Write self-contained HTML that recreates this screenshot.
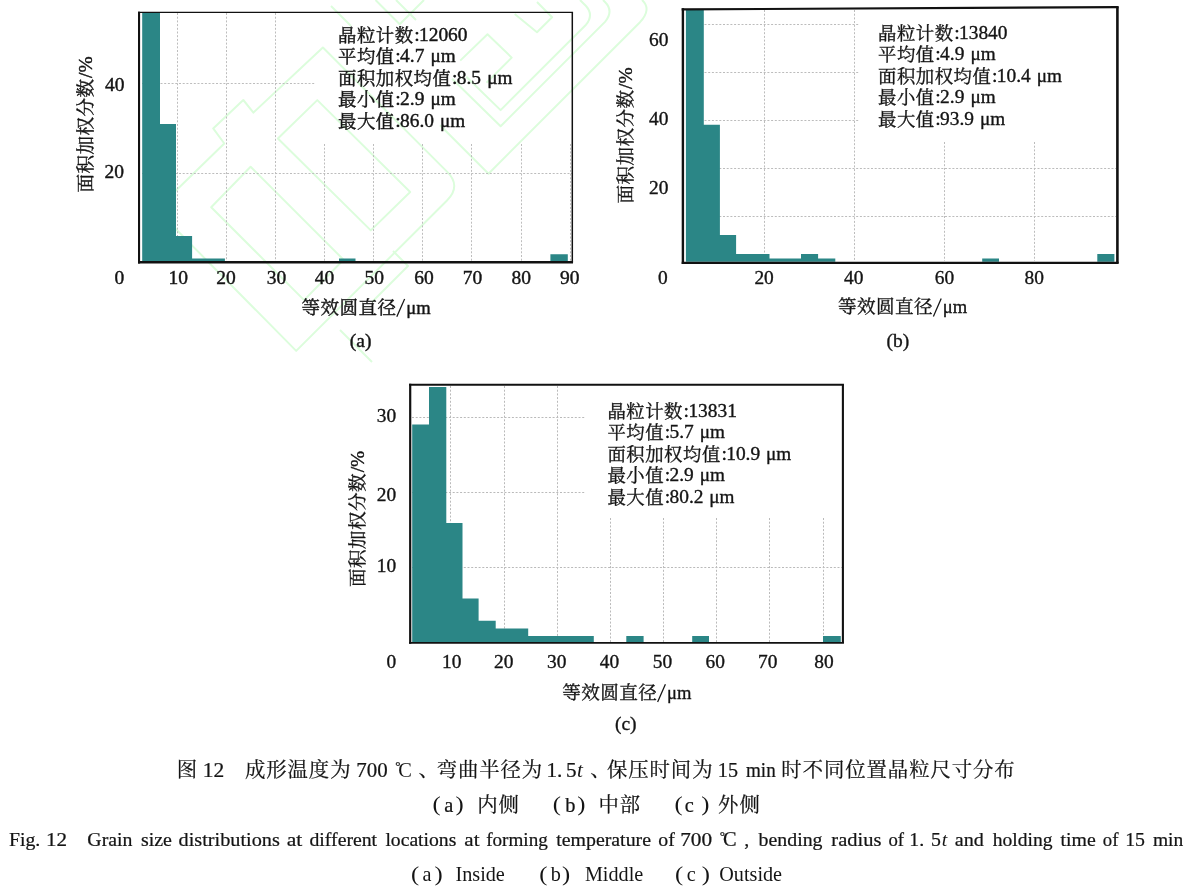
<!DOCTYPE html>
<html lang="zh">
<head>
<meta charset="utf-8">
<title>Fig. 12 Grain size distributions</title>
<style>
html,body{margin:0;padding:0;background:#fff}
body{width:1191px;height:891px;overflow:hidden;position:relative;font-family:"Liberation Serif","Noto Serif CJK SC",serif}
svg{position:absolute;left:0;top:0;display:block;will-change:transform}
text{font-family:"Liberation Serif","Noto Serif CJK SC",serif;fill:#141414;white-space:pre}
.b{font-weight:bold}
.e{stroke:#141414;stroke-width:.24px}
.i{font-style:italic}
.s{stroke:#141414;stroke-width:.34px}
.s2{stroke:#141414;stroke-width:.4px}
</style>
</head>
<body>
<svg width="1191" height="891" viewBox="0 0 1191 891" role="img" aria-label="图 12 成形温度为 700 ℃、弯曲半径为 1.5t、保压时间为 15 min 时不同位置晶粒尺寸分布">
<desc>图 12 成形温度为 700 ℃、弯曲半径为 1.5t、保压时间为 15 min 时不同位置晶粒尺寸分布 （a）内侧 （b）中部 （c）外侧</desc>
<g fill="none" stroke="#dcfddc" stroke-width="2" stroke-linejoin="round">
<path d="M156.5 209.5L224.3 143.5L213.2 128.4L243.3 100L253.4 112.6L322.9 47.5L447 171.6Q461.5 186 447 200.5L296.2 350.9Z"/>
<path d="M317.3 100.1L277.9 138.5L370.8 230.4L410.2 192Z"/>
<path d="M250.6 166.8L211.2 207.2L304.1 300.1L343.5 259.7Z"/>
<path d="M375.5 0L399.7 24.2L424 0M331 6L351 26M396 0L416 20"/>
<path d="M466.3 76.8L500.6 110.1L586 24.7Q594 15 586 6L580 0"/>
<path d="M452.1 78.8L500.6 126.3L605 21.9Q614 11 605 2L603 0"/>
<path d="M440 125.3L488.5 173.7L640 22.2Q652 9 642 0"/>
<path d="M460.2 60.6L487.5 34.3L511.7 57.6L486.5 82.8M514.7 14.1L537 32.3L552.1 17.2L537 2"/>
<path d="M393 251L408 266L372 302M340 330L372 362"/>
</g>
<g>
<path d="M177.5 13V261M226.5 13V261M275.5 13V261M324.5 144V261M373.5 144V261M422.5 144V261M471.5 144V261M521.5 144V261M570.5 144V261M142 83.5H315M142 173.5H572" fill="none" stroke="#bdbdbd" stroke-width="1" stroke-dasharray="2 1.7"/>
<path d="M142.2 261.1V12.3H160V124H176V235.9H192.1V258.6H224.9V261.1ZM339 261.1V258.6H355.5V261.1ZM550.4 261.1V254.2H567.8V261.1Z" fill="#2b8686"/>
<path d="M139.05 11.7V263.5" stroke="#111" stroke-width="2.1" fill="none"/>
<path d="M138 262.3H573.05" stroke="#111" stroke-width="2.4" fill="none"/>
<path d="M138 12.3L573.05 12.3" stroke="#111" stroke-width="1.2" fill="none"/>
<path d="M572.3 12.3V262.3" stroke="#111" stroke-width="1.5" fill="none"/>
<text x="124.4" y="90.7" font-size="19" text-anchor="end" class="s2" textLength="19.5" lengthAdjust="spacingAndGlyphs">40</text>
<text x="124" y="177.7" font-size="19" text-anchor="end" class="s2" textLength="19.5" lengthAdjust="spacingAndGlyphs">20</text>
<text x="124.3" y="283.5" font-size="19" text-anchor="end" class="s2" textLength="9.75" lengthAdjust="spacingAndGlyphs">0</text>
<text x="178.3" y="283.6" font-size="19" text-anchor="middle" class="s2" textLength="19.5" lengthAdjust="spacingAndGlyphs">10</text>
<text x="226" y="283.6" font-size="19" text-anchor="middle" class="s2" textLength="19.5" lengthAdjust="spacingAndGlyphs">20</text>
<text x="276.6" y="283.6" font-size="19" text-anchor="middle" class="s2" textLength="19.5" lengthAdjust="spacingAndGlyphs">30</text>
<text x="324.6" y="283.6" font-size="19" text-anchor="middle" class="s2" textLength="19.5" lengthAdjust="spacingAndGlyphs">40</text>
<text x="374.2" y="283.6" font-size="19" text-anchor="middle" class="s2" textLength="19.5" lengthAdjust="spacingAndGlyphs">50</text>
<text x="424" y="283.6" font-size="19" text-anchor="middle" class="s2" textLength="19.5" lengthAdjust="spacingAndGlyphs">60</text>
<text x="472.6" y="283.6" font-size="19" text-anchor="middle" class="s2" textLength="19.5" lengthAdjust="spacingAndGlyphs">70</text>
<text x="521.2" y="283.6" font-size="19" text-anchor="middle" class="s2" textLength="19.5" lengthAdjust="spacingAndGlyphs">80</text>
<text x="569.8" y="283.6" font-size="19" text-anchor="middle" class="s2" textLength="19.5" lengthAdjust="spacingAndGlyphs">90</text>
</g>
<g>
<path d="M764.5 10V261M854.5 10V261M944.5 142V261M1034.5 142V261M686 24.5H859.5M686 72.5H859.5M686 120.5H859.5M686 168.5H1116M686 216.5H1116" fill="none" stroke="#bcbcbc" stroke-width="1" stroke-dasharray="2 1.7"/>
<path d="M685.9 261.75V9H703.8V124.7H719.9V235.1H736.1V254.1H769.5V258.6H801V254.1H818.1V258.6H835.3V261.75ZM982.2 261.75V258.4H999V261.75ZM1097.3 261.75V254.1H1114.4V261.75Z" fill="#2b8686"/>
<path d="M682.9 8.3V264.05" stroke="#111" stroke-width="2.4" fill="none"/>
<path d="M681.7 262.9H1118.7" stroke="#111" stroke-width="2.3" fill="none"/>
<path d="M681.7 9.4L1118.7 7.2" stroke="#111" stroke-width="2.2" fill="none"/>
<path d="M1117.4 7.2V262.9" stroke="#111" stroke-width="2.6" fill="none"/>
<text x="668.4" y="45.9" font-size="19" text-anchor="end" class="s" textLength="19.4" lengthAdjust="spacingAndGlyphs">60</text>
<text x="668.4" y="124.5" font-size="19" text-anchor="end" class="s" textLength="19.4" lengthAdjust="spacingAndGlyphs">40</text>
<text x="668.4" y="194" font-size="19" text-anchor="end" class="s" textLength="19.4" lengthAdjust="spacingAndGlyphs">20</text>
<text x="667.6" y="283.5" font-size="19" text-anchor="end" class="s" textLength="9.7" lengthAdjust="spacingAndGlyphs">0</text>
<text x="764.1" y="283.5" font-size="19" text-anchor="middle" class="s" textLength="19.4" lengthAdjust="spacingAndGlyphs">20</text>
<text x="853.8" y="283.5" font-size="19" text-anchor="middle" class="s" textLength="19.4" lengthAdjust="spacingAndGlyphs">40</text>
<text x="944.4" y="283.5" font-size="19" text-anchor="middle" class="s" textLength="19.4" lengthAdjust="spacingAndGlyphs">60</text>
<text x="1034.2" y="283.5" font-size="19" text-anchor="middle" class="s" textLength="19.4" lengthAdjust="spacingAndGlyphs">80</text>
</g>
<g>
<path d="M450.5 386V642M504.5 386V642M557.5 386V642M610.5 518V642M663.5 518V642M716.5 518V642M769.5 518V642M823.5 518V642M412 417.5H585.5M412 492.5H585.5M412 567.5H843" fill="none" stroke="#bababa" stroke-width="1" stroke-dasharray="2 1.7"/>
<path d="M412.2 641.95V424.5H429V387H446.3V523H462.5V598.6H478.6V620.8H495.7V628.6H528.2V636.1H593.8V641.95ZM626.3 641.95V636H643.6V641.95ZM692.2 641.95V636H709V641.95ZM823 641.95V635.9H840.8V641.95Z" fill="#2b8686"/>
<path d="M410.2 383.85V643.85" stroke="#111" stroke-width="2.2" fill="none"/>
<path d="M409.1 642.9H843.95" stroke="#111" stroke-width="1.9" fill="none"/>
<path d="M409.1 384.8L843.95 384.8" stroke="#111" stroke-width="1.9" fill="none"/>
<path d="M842.9 384.8V642.9" stroke="#111" stroke-width="2.1" fill="none"/>
<text x="396.2" y="421.6" font-size="19" text-anchor="end" class="s" textLength="19.4" lengthAdjust="spacingAndGlyphs">30</text>
<text x="396.2" y="500.5" font-size="19" text-anchor="end" class="s" textLength="19.4" lengthAdjust="spacingAndGlyphs">20</text>
<text x="396.2" y="572.4" font-size="19" text-anchor="end" class="s" textLength="19.4" lengthAdjust="spacingAndGlyphs">10</text>
<text x="396.3" y="668.2" font-size="19" text-anchor="end" class="s" textLength="9.7" lengthAdjust="spacingAndGlyphs">0</text>
<text x="451.7" y="668.2" font-size="19" text-anchor="middle" class="s" textLength="19.4" lengthAdjust="spacingAndGlyphs">10</text>
<text x="503.8" y="668.2" font-size="19" text-anchor="middle" class="s" textLength="19.4" lengthAdjust="spacingAndGlyphs">20</text>
<text x="556.7" y="668.2" font-size="19" text-anchor="middle" class="s" textLength="19.4" lengthAdjust="spacingAndGlyphs">30</text>
<text x="609.5" y="668.2" font-size="19" text-anchor="middle" class="s" textLength="19.4" lengthAdjust="spacingAndGlyphs">40</text>
<text x="662.4" y="668.2" font-size="19" text-anchor="middle" class="s" textLength="19.4" lengthAdjust="spacingAndGlyphs">50</text>
<text x="715.3" y="668.2" font-size="19" text-anchor="middle" class="s" textLength="19.4" lengthAdjust="spacingAndGlyphs">60</text>
<text x="767.7" y="668.2" font-size="19" text-anchor="middle" class="s" textLength="19.4" lengthAdjust="spacingAndGlyphs">70</text>
<text x="824" y="668.2" font-size="19" text-anchor="middle" class="s" textLength="19.4" lengthAdjust="spacingAndGlyphs">80</text>
</g>
<g transform="translate(92.2 192.6) rotate(-90)"><text x="0" y="0" font-size="18.6" class="s2" textLength="113.6" lengthAdjust="spacing">面积加权分数</text><text x="114.6" y="0" font-size="19.4" class="s2">/%</text></g>
<g transform="translate(631.7 203.6) rotate(-90)"><text x="0" y="0" font-size="18.6" class="s" textLength="113.6" lengthAdjust="spacing">面积加权分数</text><text x="114.6" y="0" font-size="19.4" class="s">/%</text></g>
<g transform="translate(363.7 586.9) rotate(-90)"><text x="0" y="0" font-size="18.6" class="s" textLength="113.6" lengthAdjust="spacing">面积加权分数</text><text x="114.6" y="0" font-size="19.4" class="s">/%</text></g>
<text x="301.4" y="313.6" font-size="18.6" class="s2" textLength="94.6" lengthAdjust="spacing">等效圆直径</text><path d="M396.8 316.8L404.6 299" stroke="#141414" stroke-width="1.25" fill="none"/><text x="406.2" y="313.6" font-size="18.5" class="s2" textLength="24.4" lengthAdjust="spacingAndGlyphs">μm</text>
<text x="838" y="313.2" font-size="18.6" class="s" textLength="94.6" lengthAdjust="spacing">等效圆直径</text><path d="M933.4 316.4L941.2 298.6" stroke="#141414" stroke-width="1.25" fill="none"/><text x="942.8" y="313.2" font-size="18.5" class="s" textLength="24.4" lengthAdjust="spacingAndGlyphs">μm</text>
<text x="562.2" y="698.8" font-size="18.6" class="s" textLength="94.6" lengthAdjust="spacing">等效圆直径</text><path d="M657.6 702L665.4 684.2" stroke="#141414" stroke-width="1.25" fill="none"/><text x="667" y="698.8" font-size="18.5" class="s" textLength="24.4" lengthAdjust="spacingAndGlyphs">μm</text>
<text x="360.7" y="346.6" font-size="19.5" text-anchor="middle" class="s2">(a)</text>
<text x="897.9" y="346.6" font-size="19.5" text-anchor="middle" class="s">(b)</text>
<text x="625.8" y="730.2" font-size="19.5" text-anchor="middle" class="s">(c)</text>
<text x="338" y="42.2" font-size="18.4" class="s2" textLength="75.1" lengthAdjust="spacing">晶粒计数</text>
<text x="414.2" y="41.2" font-size="19.8" class="s2">:</text>
<text x="419" y="41.2" font-size="18.4" class="s2" textLength="48.5" lengthAdjust="spacingAndGlyphs">12060</text>
<text x="338" y="63.4" font-size="18.4" class="s2" textLength="56.2" lengthAdjust="spacing">平均值</text>
<text x="395.3" y="62.4" font-size="19.8" class="s2">:</text>
<text x="400.1" y="62.4" font-size="18.4" class="s2" textLength="24.25" lengthAdjust="spacingAndGlyphs">4.7</text>
<text x="430.45" y="62.4" font-size="18.4" class="s2" textLength="25.2" lengthAdjust="spacingAndGlyphs">μm</text>
<text x="338" y="84.8" font-size="18.4" class="s2" textLength="112.9" lengthAdjust="spacing">面积加权均值</text>
<text x="452" y="83.8" font-size="19.8" class="s2">:</text>
<text x="456.8" y="83.8" font-size="18.4" class="s2" textLength="24.25" lengthAdjust="spacingAndGlyphs">8.5</text>
<text x="487.15" y="83.8" font-size="18.4" class="s2" textLength="25.2" lengthAdjust="spacingAndGlyphs">μm</text>
<text x="338" y="106.2" font-size="18.4" class="s2" textLength="56.2" lengthAdjust="spacing">最小值</text>
<text x="395.3" y="105.2" font-size="19.8" class="s2">:</text>
<text x="400.1" y="105.2" font-size="18.4" class="s2" textLength="24.25" lengthAdjust="spacingAndGlyphs">2.9</text>
<text x="430.45" y="105.2" font-size="18.4" class="s2" textLength="25.2" lengthAdjust="spacingAndGlyphs">μm</text>
<text x="338" y="127.6" font-size="18.4" class="s2" textLength="56.2" lengthAdjust="spacing">最大值</text>
<text x="395.3" y="126.6" font-size="19.8" class="s2">:</text>
<text x="400.1" y="126.6" font-size="18.4" class="s2" textLength="33.95" lengthAdjust="spacingAndGlyphs">86.0</text>
<text x="439.95" y="126.6" font-size="18.4" class="s2" textLength="25.2" lengthAdjust="spacingAndGlyphs">μm</text>
<text x="878" y="40.2" font-size="18.4" class="s" textLength="75.1" lengthAdjust="spacing">晶粒计数</text>
<text x="954.2" y="39.2" font-size="19.8" class="s">:</text>
<text x="959" y="39.2" font-size="18.4" class="s" textLength="48.5" lengthAdjust="spacingAndGlyphs">13840</text>
<text x="878" y="61.4" font-size="18.4" class="s" textLength="56.2" lengthAdjust="spacing">平均值</text>
<text x="935.3" y="60.4" font-size="19.8" class="s">:</text>
<text x="940.1" y="60.4" font-size="18.4" class="s" textLength="24.25" lengthAdjust="spacingAndGlyphs">4.9</text>
<text x="970.45" y="60.4" font-size="18.4" class="s" textLength="25.2" lengthAdjust="spacingAndGlyphs">μm</text>
<text x="878" y="82.8" font-size="18.4" class="s" textLength="112.9" lengthAdjust="spacing">面积加权均值</text>
<text x="992" y="81.8" font-size="19.8" class="s">:</text>
<text x="996.8" y="81.8" font-size="18.4" class="s" textLength="33.95" lengthAdjust="spacingAndGlyphs">10.4</text>
<text x="1036.65" y="81.8" font-size="18.4" class="s" textLength="25.2" lengthAdjust="spacingAndGlyphs">μm</text>
<text x="878" y="104.2" font-size="18.4" class="s" textLength="56.2" lengthAdjust="spacing">最小值</text>
<text x="935.3" y="103.2" font-size="19.8" class="s">:</text>
<text x="940.1" y="103.2" font-size="18.4" class="s" textLength="24.25" lengthAdjust="spacingAndGlyphs">2.9</text>
<text x="970.45" y="103.2" font-size="18.4" class="s" textLength="25.2" lengthAdjust="spacingAndGlyphs">μm</text>
<text x="878" y="125.6" font-size="18.4" class="s" textLength="56.2" lengthAdjust="spacing">最大值</text>
<text x="935.3" y="124.6" font-size="19.8" class="s">:</text>
<text x="940.1" y="124.6" font-size="18.4" class="s" textLength="33.95" lengthAdjust="spacingAndGlyphs">93.9</text>
<text x="979.95" y="124.6" font-size="18.4" class="s" textLength="25.2" lengthAdjust="spacingAndGlyphs">μm</text>
<text x="607.4" y="418.1" font-size="18.4" class="s" textLength="75.1" lengthAdjust="spacing">晶粒计数</text>
<text x="683.6" y="417.1" font-size="19.8" class="s">:</text>
<text x="688.4" y="417.1" font-size="18.4" class="s" textLength="48.5" lengthAdjust="spacingAndGlyphs">13831</text>
<text x="607.4" y="439.3" font-size="18.4" class="s" textLength="56.2" lengthAdjust="spacing">平均值</text>
<text x="664.7" y="438.3" font-size="19.8" class="s">:</text>
<text x="669.5" y="438.3" font-size="18.4" class="s" textLength="24.25" lengthAdjust="spacingAndGlyphs">5.7</text>
<text x="699.85" y="438.3" font-size="18.4" class="s" textLength="25.2" lengthAdjust="spacingAndGlyphs">μm</text>
<text x="607.4" y="460.7" font-size="18.4" class="s" textLength="112.9" lengthAdjust="spacing">面积加权均值</text>
<text x="721.4" y="459.7" font-size="19.8" class="s">:</text>
<text x="726.2" y="459.7" font-size="18.4" class="s" textLength="33.95" lengthAdjust="spacingAndGlyphs">10.9</text>
<text x="766.05" y="459.7" font-size="18.4" class="s" textLength="25.2" lengthAdjust="spacingAndGlyphs">μm</text>
<text x="607.4" y="482.1" font-size="18.4" class="s" textLength="56.2" lengthAdjust="spacing">最小值</text>
<text x="664.7" y="481.1" font-size="19.8" class="s">:</text>
<text x="669.5" y="481.1" font-size="18.4" class="s" textLength="24.25" lengthAdjust="spacingAndGlyphs">2.9</text>
<text x="699.85" y="481.1" font-size="18.4" class="s" textLength="25.2" lengthAdjust="spacingAndGlyphs">μm</text>
<text x="607.4" y="503.5" font-size="18.4" class="s" textLength="56.2" lengthAdjust="spacing">最大值</text>
<text x="664.7" y="502.5" font-size="19.8" class="s">:</text>
<text x="669.5" y="502.5" font-size="18.4" class="s" textLength="33.95" lengthAdjust="spacingAndGlyphs">80.2</text>
<text x="709.35" y="502.5" font-size="18.4" class="s" textLength="25.2" lengthAdjust="spacingAndGlyphs">μm</text>
<text x="176.66" y="776.6" font-size="20.4" class="e">图</text>
<text x="202.71" y="776.6" font-size="21.2" class="e" textLength="21.47" lengthAdjust="spacingAndGlyphs">12</text>
<text x="244.95" y="776.6" font-size="20.4" class="e" textLength="105.6" lengthAdjust="spacing">成形温度为</text>
<text x="356.22" y="776.6" font-size="21.2" class="e" textLength="31.48" lengthAdjust="spacingAndGlyphs">700</text>
<text x="395.18" y="770.2" font-size="13" class="e">°</text><text x="398.36" y="776.6" font-size="20.6" textLength="13.6" lengthAdjust="spacingAndGlyphs">C</text>
<text x="418.4" y="776.6" font-size="20.4" class="e">、</text>
<text x="436.64" y="776.6" font-size="20.4" class="e" textLength="105.6" lengthAdjust="spacing">弯曲半径为</text>
<text x="546.44" y="776.6" font-size="21.2" class="e">1.</text>
<text x="565.97" y="776.6" font-size="21.2" class="e">5</text>
<text x="576.97" y="776.6" font-size="21.2" class="i">t</text>
<text x="590.2" y="776.6" font-size="20.4" class="e">、</text>
<text x="606.93" y="776.6" font-size="20.4" class="e" textLength="105.6" lengthAdjust="spacing">保压时间为</text>
<text x="717.83" y="776.6" font-size="21.2" class="e" textLength="20.16" lengthAdjust="spacingAndGlyphs">15</text>
<text x="746" y="776.6" font-size="20" class="e" textLength="29.69" lengthAdjust="spacingAndGlyphs">min</text>
<text x="781.33" y="776.6" font-size="20.4" class="e" textLength="233.4" lengthAdjust="spacing">时不同位置晶粒尺寸分布</text>
<text x="432.62" y="811.4" font-size="20" textLength="8.2" lengthAdjust="spacingAndGlyphs">(</text><text x="444.18" y="811.6" font-size="20.4" class="e">a</text><text x="455.56" y="811.4" font-size="20" textLength="8.2" lengthAdjust="spacingAndGlyphs">)</text><text x="477.19" y="812" font-size="20.4" class="e" textLength="41.7" lengthAdjust="spacing">内侧</text>
<text x="552.72" y="811.4" font-size="20" textLength="8.2" lengthAdjust="spacingAndGlyphs">(</text><text x="565.3" y="811.6" font-size="20.4" class="e">b</text><text x="577.26" y="811.4" font-size="20" textLength="8.2" lengthAdjust="spacingAndGlyphs">)</text><text x="598.44" y="812" font-size="20.4" class="e" textLength="41.7" lengthAdjust="spacing">中部</text>
<text x="674.62" y="811.4" font-size="20" textLength="8.2" lengthAdjust="spacingAndGlyphs">(</text><text x="684.82" y="811.6" font-size="20.4" class="e">c</text><text x="701.36" y="811.4" font-size="20" textLength="8.2" lengthAdjust="spacingAndGlyphs">)</text><text x="718.08" y="812" font-size="20.4" class="e" textLength="41.7" lengthAdjust="spacing">外侧</text>
<text x="9.03" y="845.6" font-size="19.8" class="e" textLength="31.27" lengthAdjust="spacingAndGlyphs">Fig.</text>
<text x="46.04" y="845.6" font-size="19.8" class="e" textLength="21.12" lengthAdjust="spacingAndGlyphs">12</text>
<text x="87.39" y="845.6" font-size="19.8" class="e" textLength="45.11" lengthAdjust="spacingAndGlyphs">Grain</text>
<text x="140.98" y="845.6" font-size="19.8" class="e" textLength="31.01" lengthAdjust="spacingAndGlyphs">size</text>
<text x="178.57" y="845.6" font-size="19.8" class="e" textLength="101.26" lengthAdjust="spacingAndGlyphs">distributions</text>
<text x="286.74" y="845.6" font-size="19.8" class="e" textLength="15.59" lengthAdjust="spacingAndGlyphs">at</text>
<text x="309.49" y="845.6" font-size="19.8" class="e" textLength="67.62" lengthAdjust="spacingAndGlyphs">different</text>
<text x="385.41" y="845.6" font-size="19.8" class="e" textLength="70.9" lengthAdjust="spacingAndGlyphs">locations</text>
<text x="464.36" y="845.6" font-size="19.8" class="e" textLength="15.16" lengthAdjust="spacingAndGlyphs">at</text>
<text x="486.21" y="845.6" font-size="19.8" class="e" textLength="61.55" lengthAdjust="spacingAndGlyphs">forming</text>
<text x="556.21" y="845.6" font-size="19.8" class="e" textLength="94.78" lengthAdjust="spacingAndGlyphs">temperature</text>
<text x="658.35" y="845.6" font-size="19.8" class="e" textLength="16.45" lengthAdjust="spacingAndGlyphs">of</text>
<text x="680.2" y="845.6" font-size="19.8" class="e" textLength="31.91" lengthAdjust="spacingAndGlyphs">700</text>
<text x="758.6" y="845.6" font-size="19.8" class="e" textLength="63.88" lengthAdjust="spacingAndGlyphs">bending</text>
<text x="831.39" y="845.6" font-size="19.8" class="e" textLength="50.05" lengthAdjust="spacingAndGlyphs">radius</text>
<text x="888.49" y="845.6" font-size="19.8" class="e" textLength="15.61" lengthAdjust="spacingAndGlyphs">of</text>
<text x="954.79" y="845.6" font-size="19.8" class="e" textLength="29.05" lengthAdjust="spacingAndGlyphs">and</text>
<text x="992.71" y="845.6" font-size="19.8" class="e" textLength="59.76" lengthAdjust="spacingAndGlyphs">holding</text>
<text x="1060.61" y="845.6" font-size="19.8" class="e" textLength="35.18" lengthAdjust="spacingAndGlyphs">time</text>
<text x="1102.79" y="845.6" font-size="19.8" class="e" textLength="15.61" lengthAdjust="spacingAndGlyphs">of</text>
<text x="1125.16" y="845.6" font-size="19.8" class="e" textLength="19.82" lengthAdjust="spacingAndGlyphs">15</text>
<text x="1152.89" y="845.6" font-size="19.8" class="e" textLength="30.3" lengthAdjust="spacingAndGlyphs">min</text>
<text x="744.25" y="845.6" font-size="19.8" class="e">,</text>
<text x="909.26" y="845.6" font-size="19.8" class="e">1.</text>
<text x="930.95" y="845.6" font-size="19.8" class="e">5</text>
<text x="941.73" y="845.6" font-size="19.8" class="i">t</text>
<text x="719.78" y="839.6" font-size="13" class="e">°</text><text x="722.96" y="845.6" font-size="20.4" class="e" textLength="13.6" lengthAdjust="spacingAndGlyphs">C</text>
<text x="422.39" y="880.6" font-size="20.2">a</text>
<text x="455.47" y="880.6" font-size="20.2">Inside</text>
<text x="550.7" y="880.6" font-size="20.2">b</text>
<text x="584.92" y="880.6" font-size="20.2">Middle</text>
<text x="686.63" y="880.6" font-size="20.2">c</text>
<text x="719.27" y="880.6" font-size="20.2">Outside</text>
<text x="411.1" y="881" font-size="20.4" textLength="8.2" lengthAdjust="spacingAndGlyphs">(</text>
<text x="434.54" y="881" font-size="20.4" textLength="8.2" lengthAdjust="spacingAndGlyphs">)</text>
<text x="539.2" y="881" font-size="20.4" textLength="8.2" lengthAdjust="spacingAndGlyphs">(</text>
<text x="562.14" y="881" font-size="20.4" textLength="8.2" lengthAdjust="spacingAndGlyphs">)</text>
<text x="675.1" y="881" font-size="20.4" textLength="8.2" lengthAdjust="spacingAndGlyphs">(</text>
<text x="701.84" y="881" font-size="20.4" textLength="8.2" lengthAdjust="spacingAndGlyphs">)</text>
</svg>
</body>
</html>
